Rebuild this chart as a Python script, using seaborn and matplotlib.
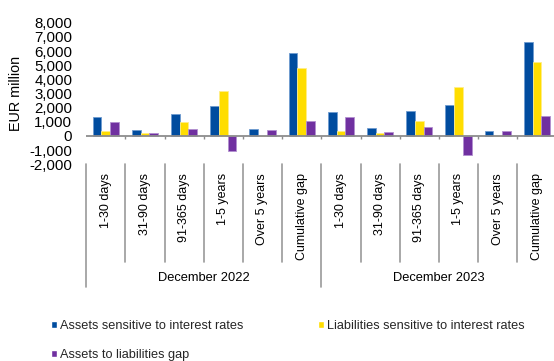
import matplotlib
matplotlib.use("Agg")
import matplotlib.pyplot as plt
import pandas as pd
import seaborn as sns
from matplotlib.lines import Line2D

# Interest-rate repricing buckets, EUR million
periods = ["December 2022", "December 2023"]
buckets = ["1-30 days", "31-90 days", "91-365 days", "1-5 years",
           "Over 5 years", "Cumulative gap"]
series = ["Assets sensitive to interest rates",
          "Liabilities sensitive to interest rates",
          "Assets to liabilities gap"]

assets_2022 = [1340, 400, 1530, 2120, 470, 5880]
liabilities_2022 = [350, 210, 1010, 3200, 0, 4800]
gap_2022 = [990, 190, 520, -1060, 420, 1060]

assets_2023 = [1700, 590, 1740, 2160, 350, 6660]
liabilities_2023 = [380, 240, 1080, 3460, 0, 5220]
gap_2023 = [1340, 310, 660, -1320, 330, 1440]

y_ticks = [-2000, -1000, 0, 1000, 2000, 3000, 4000, 5000, 6000, 7000, 8000]

colors = ["#004C9F", "#FFDD00", "#7030A0"]
edge_colors = ["#6E9BD0", "#FFEE88", "#B28FD0"]

values = {
    "December 2022": [assets_2022, liabilities_2022, gap_2022],
    "December 2023": [assets_2023, liabilities_2023, gap_2023],
}

rows = []
order = []
for p in periods:
    for i, b in enumerate(buckets):
        key = f"{p}|{b}"
        order.append(key)
        for s, vals in zip(series, values[p]):
            rows.append({"cat": key, "series": s, "value": vals[i]})
df = pd.DataFrame(rows)

sns.set_theme(style="white")
plt.rcParams["font.family"] = ["Liberation Sans", "DejaVu Sans"]

W, H = 554, 361
fig = plt.figure(figsize=(W / 100, H / 100), dpi=100)

# axes geometry in pixels
ax_left, ax_right = 86.1, 556.5
ax_top, ax_bottom = 22.7, 164.3
ax = fig.add_axes([ax_left / W, 1 - ax_bottom / H,
                   (ax_right - ax_left) / W, (ax_bottom - ax_top) / H])

sns.barplot(data=df, x="cat", y="value", hue="series", order=order,
            hue_order=series, palette=colors, saturation=1, width=0.667,
            ax=ax, errorbar=None)

# light outline around each bar
for cont, ec in zip(ax.containers, edge_colors):
    for bar in cont:
        bar.set_edgecolor(ec)
        bar.set_linewidth(0.6)

handles, labels = ax.get_legend_handles_labels()
ax.get_legend().remove()

n = len(order)
ax.set_xlim(-0.5, n - 0.5)
ax.set_ylim(-2000, 8000)

for sp in ax.spines.values():
    sp.set_visible(False)

ax.set_yticks(y_ticks)
ax.set_yticklabels([f"{v:,}" for v in y_ticks], fontsize=10.8, color="black")
ax.tick_params(axis="y", length=0, pad=10)
ax.set_xticks([])
ax.set_xlabel("")
ax.set_ylabel("EUR million", fontsize=10.4, color="black")
ax.yaxis.set_label_coords((23 - ax_left) / (ax_right - ax_left), 0.5)

axis_gray = "#8C8C8C"
ax.axhline(0, color=axis_gray, lw=1.3, zorder=3)

# small tick marks on the zero line between categories
tick_len = 3 / (ax_bottom - ax_top) * 10000
for k in range(1, n):
    ax.plot([k - 0.5, k - 0.5], [0, -tick_len], color=axis_gray, lw=1.0,
            zorder=3, solid_capstyle="butt")

# two-level category axis below the plot
trans = ax.get_xaxis_transform()
h_ax = ax_bottom - ax_top
inner_end = -(261.7 - ax_bottom) / h_ax
outer_end = -(286.7 - ax_bottom) / h_ax
label_top = -(173 - ax_bottom) / h_ax
period_y = -(278.3 - ax_bottom) / h_ax

for k in range(0, n + 1):
    outer = k % len(buckets) == 0
    y1 = outer_end if outer else inner_end
    ax.add_line(Line2D([k - 0.5, k - 0.5], [0, y1], transform=trans,
                       color="#9A9A9A", lw=1.2, clip_on=False))

for k, key in enumerate(order):
    ax.text(k, label_top, key.split("|")[1], transform=trans, rotation=90,
            ha="center", va="top", fontsize=9, color="black")

for j, p in enumerate(periods):
    center = j * len(buckets) + (len(buckets) - 1) / 2
    ax.text(center, period_y, p, transform=trans, ha="center", va="center",
            fontsize=9.3, color="black")

# legend: assets and liabilities on the first row, gap below
leg_handles = [handles[0], handles[2], handles[1]]
leg_labels = [labels[0], labels[2], labels[1]]
fig.legend(leg_handles, leg_labels, ncol=2, loc="upper left",
           bbox_to_anchor=(51 / W, 1 - 320 / H), frameon=False, fontsize=9.2,
           handlelength=0.5, handleheight=0.45, handletextpad=0.19,
           labelspacing=1.32, columnspacing=5.85, borderpad=0, borderaxespad=0)

fig.savefig("out.png", dpi=100)
